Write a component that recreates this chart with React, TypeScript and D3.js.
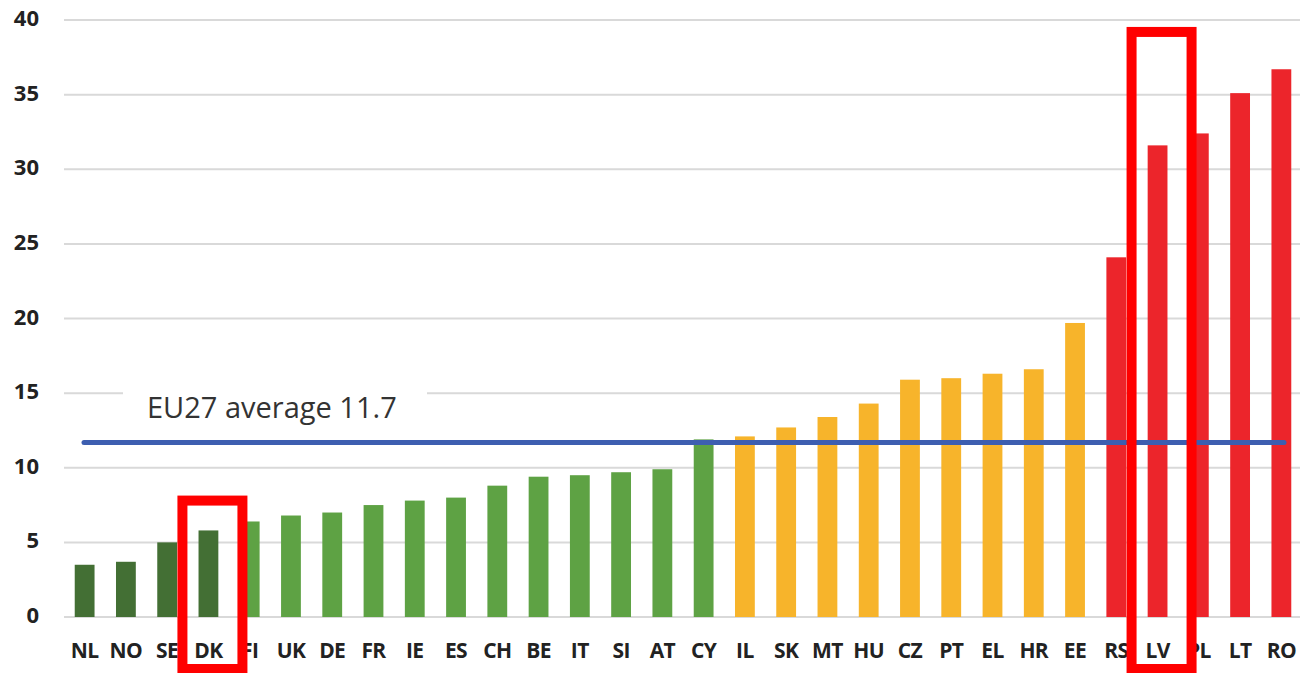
import React from "react";
import { scaleBand, scaleLinear } from "d3";

const categories = ["NL", "NO", "SE", "DK", "FI", "UK", "DE", "FR", "IE", "ES", "CH", "BE", "IT", "SI", "AT", "CY", "IL", "SK", "MT", "HU", "CZ", "PT", "EL", "HR", "EE", "RS", "LV", "PL", "LT", "RO"];
const values = [3.5, 3.7, 5.0, 5.8, 6.4, 6.8, 7.0, 7.5, 7.8, 8.0, 8.8, 9.4, 9.5, 9.7, 9.9, 11.9, 12.1, 12.7, 13.4, 14.3, 15.9, 16.0, 16.3, 16.6, 19.7, 24.1, 31.6, 32.4, 35.1, 36.7];
// colour group per bar: 0 dark green, 1 green, 2 orange, 3 red
const groups = [0, 0, 0, 0, 1, 1, 1, 1, 1, 1, 1, 1, 1, 1, 1, 1, 2, 2, 2, 2, 2, 2, 2, 2, 2, 3, 3, 3, 3, 3];
const groupColors = ["#436f34", "#5ea244", "#f7b42b", "#ec252b"];
const yTicks = [0, 5, 10, 15, 20, 25, 30, 35, 40];
const euAverage = 11.7;
const averageLabel = "EU27 average 11.7";
const highlighted = [
  { cat: "DK", top: 7.8 },
  { cat: "LV", top: 39.2 },
];

const App = () => {
  const width = 1302;
  const height = 673;
  const margin = { top: 20, right: 0, bottom: 56, left: 64 };

  const xScale = scaleBand()
    .domain(categories)
    .range([margin.left, width])
    .paddingInner(0.52)
    .paddingOuter(0.26);

  const yScale = scaleLinear().domain([0, 40]).range([617, margin.top]);

  const bw = xScale.bandwidth();
  const font = "'Open Sans', 'DejaVu Sans', sans-serif";

  return (
    <svg width={width} height={height} style={{ position: "absolute", left: 0, top: 0, background: "#fff" }}>
      {/* gridlines */}
      {yTicks.map((t) => (
        <g key={t}>
          <line x1={margin.left} x2={1300} y1={yScale(t)} y2={yScale(t)} stroke="#d9d9d9" strokeWidth={2} />
          <text x={39} y={yScale(t) - 3} textAnchor="end" dominantBaseline="central"
            style={{ fontFamily: font, fontWeight: 700, fontSize: 22, fill: "#222" }}>{t}</text>
        </g>
      ))}

      {/* bars */}
      {categories.map((c, i) => (
        <rect key={c} x={xScale(c)} y={yScale(values[i])} width={bw}
          height={yScale(0) - yScale(values[i])} fill={groupColors[groups[i]]} />
      ))}

      {/* average label with white backing */}
      <rect x={123} y={yScale(15) - 18} width={304} height={36} fill="#fff" />
      <text x={147} y={418} style={{ fontFamily: font, fontSize: 29, fill: "#333" }}>{averageLabel}</text>

      {/* EU average line */}
      <line x1={84} x2={1284} y1={yScale(euAverage)} y2={yScale(euAverage)}
        stroke="#3d5eb0" strokeWidth={5} strokeLinecap="round" />

      {/* x labels */}
      {categories.map((c) => (
        <text key={c} x={(xScale(c) as number) + bw / 2} y={650} textAnchor="middle" dominantBaseline="central"
          style={{ fontFamily: font, fontWeight: 700, fontSize: 21, fill: "#222", letterSpacing: -0.6 }}>{c}</text>
      ))}

      {/* highlight boxes */}
      {highlighted.map((h) => {
        const cx = (xScale(h.cat) as number) + bw / 2 + 4;
        return (
          <rect key={h.cat} x={cx - 30} y={yScale(h.top)} width={60} height={669 - yScale(h.top)}
            fill="none" stroke="#ff0000" strokeWidth={10} />
        );
      })}
    </svg>
  );
};

export default App;
